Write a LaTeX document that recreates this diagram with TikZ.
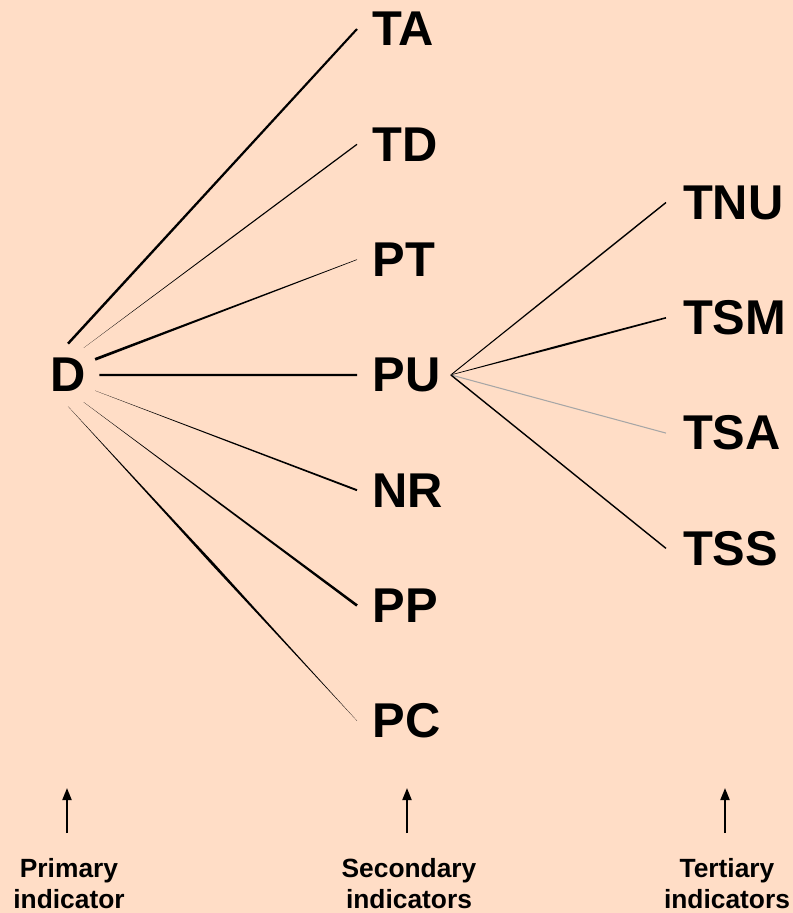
\documentclass[tikz,border=0pt]{standalone}
\usepackage{fontspec}
\setmainfont{Liberation Sans}
\usetikzlibrary{calc,arrows.meta}
\definecolor{peach}{RGB}{255,221,198}

% tapered branch: from, to, half width at start, middle, end
\newcommand{\branch}[6][black]{%
  \coordinate (bm) at ($(#2)!0.5!(#3)$);
  \fill[#1] ($(#2)!#4!90:(#3)$) -- ($(bm)!#5!90:(#3)$) -- ($(#3)!#6!-90:(#2)$)
    -- ($(#3)!#6!90:(#2)$) -- ($(bm)!#5!-90:(#3)$) -- ($(#2)!#4!-90:(#3)$) -- cycle;}

\tikzset{
  ind/.style={font=\fontsize{27.8}{30}\selectfont\bfseries, inner sep=0pt},
  sec/.style={ind, anchor=west, outer xsep=0.31cm},
  ter/.style={ind, anchor=west, outer xsep=0.34cm},
  note/.style={font=\fontsize{15}{17.6}\selectfont\bfseries, align=center, inner sep=0pt, anchor=north},
  up/.style={line width=1.1pt, -{Triangle[length=0.24cm,width=0.18cm]}}
}

\begin{document}
\begin{tikzpicture}[x=0.02cm, y=-0.02cm]
\useasboundingbox (0,0) rectangle (793,913);
\fill[peach] (0,0) rectangle (793,913);

\node[ind, circle, minimum size=1.24cm] (D) at (68,375) {D};

\node[sec] (TA) at (357,29) {TA};
\node[sec] (TD) at (357,144.3) {TD};
\node[sec] (PT) at (357,259.6) {PT};
\node[sec] (PU) at (357,374.9) {PU};
\node[sec] (NR) at (357,490.2) {NR};
\node[sec] (PP) at (357,605.5) {PP};
\node[sec] (PC) at (357,720.8) {PC};

\node[ter] (TNU) at (666,202.5) {TNU};
\node[ter] (TSM) at (666,317.8) {TSM};
\node[ter] (TSA) at (666,433.1) {TSA};
\node[ter] (TSS) at (666,548.4) {TSS};

\branch{D.90}{TA.west}{0.7pt}{0.65pt}{0.6pt}
\branch{D.60}{TD.west}{0.02pt}{0.3pt}{0.35pt}
\branch{D.30}{PT.west}{0.8pt}{0.5pt}{0.15pt}
\branch{D.0}{PU.west}{0.65pt}{0.65pt}{0.65pt}
\branch{D.-30}{NR.west}{0.02pt}{0.35pt}{0.55pt}
\branch{D.-60}{PP.west}{0.02pt}{0.45pt}{0.75pt}
\branch{D.-90}{PC.west}{0.02pt}{0.8pt}{0.02pt}

\coordinate (PUr) at ([xshift=-0.1cm]PU.east);
\branch{PUr}{TNU.west}{0.25pt}{0.4pt}{0.4pt}
\branch{PUr}{TSM.west}{0.15pt}{0.6pt}{0.45pt}
\branch[black!35]{PUr}{TSA.west}{0.3pt}{0.3pt}{0.3pt}
\branch{PUr}{TSS.west}{0.4pt}{0.4pt}{0.4pt}

\node[note] (prim) at (69,858) {Primary\\indicator};
\node[note] (second) at (409,858) {Secondary\\indicators};
\node[note] (tert) at (727,858) {Tertiary\\indicators};

\coordinate (p0) at (67,833);  \coordinate (p1) at (67,788);
\coordinate (s0) at (407,833); \coordinate (s1) at (407,788);
\coordinate (t0) at (725,833); \coordinate (t1) at (725,788);
\draw[up] (p0) -- (p1);
\draw[up] (s0) -- (s1);
\draw[up] (t0) -- (t1);
\end{tikzpicture}
\end{document}
